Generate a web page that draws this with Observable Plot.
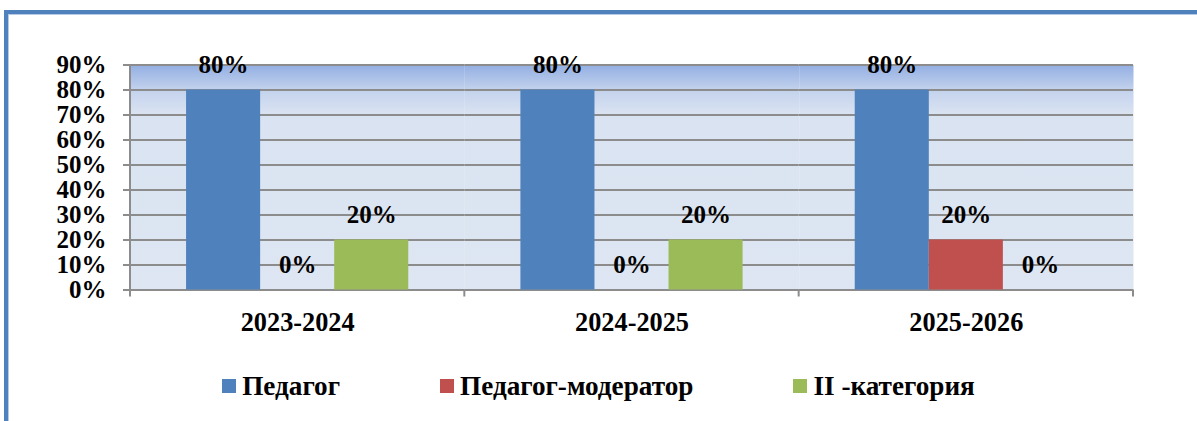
<!DOCTYPE html>
<html>
<head>
<meta charset="utf-8">
<script src="https://cdn.jsdelivr.net/npm/d3@7"></script>
<script src="https://cdn.jsdelivr.net/npm/@observablehq/plot@0.6"></script>
<style>
  html, body { margin: 0; padding: 0; background: #fff; overflow: hidden; }
  #wrap { position: relative; width: 1197px; height: 421px; overflow: hidden; font-family: 'Liberation Serif', 'Times New Roman', serif; }
  #frame { position: absolute; left: 4px; top: 10px; width: 1300px; height: 600px; border-top: 4px solid #4f81bd; border-left: 4px solid #4f81bd; box-sizing: border-box; }
  #frame2 { position: absolute; left: 8px; top: 14px; width: 1300px; height: 600px; border-top: 1px solid #b7cbe6; border-left: 1px solid #b7cbe6; box-sizing: border-box; }
  #chart { position: absolute; left: 0; top: 0; }
  #legend { position: absolute; left: 0; top: 371px; width: 1197px; display: flex; justify-content: center; gap: 100px; font-family: 'Liberation Serif', 'Times New Roman', serif; font-size: 27.2px; font-weight: bold; line-height: 30px; color: #000; }
  .item { display: flex; align-items: center; }
  .sw { width: 14px; height: 14px; margin-right: 6px; }
</style>
</head>
<body>
<div id="wrap">
  <div id="frame"></div>
  <div id="frame2"></div>
  <div id="chart"></div>
  <div id="legend"></div>
</div>
<script>
const years = ["2023-2024", "2024-2025", "2025-2026"];
const seriesNames = ["Педагог", "Педагог-модератор", "II -категория"];
const pedagog = [0.8, 0.8, 0.8];
const moderator = [0, 0, 0.2];
const category2 = [0.2, 0.2, 0];
const yTicks = [0, 0.1, 0.2, 0.3, 0.4, 0.5, 0.6, 0.7, 0.8, 0.9];
const colors = ["#4f81bd", "#c0504d", "#9bbb59"];

const seriesValues = [pedagog, moderator, category2];
const data = years.flatMap((year, i) =>
  seriesNames.map((s, j) => ({year, series: s, value: seriesValues[j][i]}))
);

const fmt = d => Math.round(d * 100) + "%";
const gridColor = "#8c8c8c";
const fsNum = 25;      // value labels and y ticks
const fsCat = 26.3;    // category labels

const chart = Plot.plot({
  width: 1197,
  height: 345,
  marginTop: 64.5,
  marginBottom: 55.5,
  marginLeft: 130,
  marginRight: 64,
  style: {fontFamily: "'Liberation Serif', 'Times New Roman', serif", fontWeight: "bold", fontSize: fsNum + "px", color: "#000", background: "transparent", overflow: "visible"},
  fx: {domain: years, padding: 0, round: false},
  x: {domain: seriesNames, paddingInner: 0, paddingOuter: 0.757, round: false, axis: null},
  y: {domain: [0, 0.9], nice: false},
  color: {domain: seriesNames, range: colors},
  marks: [
    Plot.frame({fill: "url(#bgGrad)", stroke: "none"}),
    Plot.gridY(yTicks, {stroke: gridColor, strokeOpacity: 1, strokeWidth: 2}),
    Plot.barY(data, {fx: "year", x: "series", y: "value", fill: "series"}),
    Plot.text(data, {fx: "year", x: "series", y: "value", text: d => fmt(d.value), dy: -25.5, fontSize: fsNum, fontWeight: "bold", fill: "#000", lineAnchor: "middle"}),
    Plot.axisY(yTicks, {tickFormat: fmt, tickSize: 7, tickPadding: 17, stroke: gridColor, strokeWidth: 2, fontSize: fsNum, fontWeight: "bold", fill: "#000", label: null}),
    Plot.axisFx({anchor: "bottom", tickSize: 0, tickPadding: 22, fontSize: fsCat, fontWeight: "bold", fill: "#000", label: null})
  ]
});

// gradient definition for the plot background
const svg = d3.select(chart);
const grad = svg.insert("defs", ":first-child").append("linearGradient")
  .attr("id", "bgGrad").attr("x1", 0).attr("y1", 0).attr("x2", 0).attr("y2", 1);
[[0, "#93afe2"], [0.11, "#c3d2ed"], [0.22, "#dae3f1"], [1, "#dde6f2"]].forEach(([o, c]) =>
  grad.append("stop").attr("offset", o).attr("stop-color", c));

// axis line and category separator ticks, computed from the scales
const fxS = chart.scale("fx");
const yS = chart.scale("y");
const edges = years.map(d => fxS.apply(d)).concat([fxS.apply(years[years.length - 1]) + fxS.bandwidth]);
const y0 = yS.apply(0);
const g = svg.append("g").attr("stroke", gridColor).attr("stroke-width", 2);
g.append("line").attr("x1", edges[0]).attr("x2", edges[0]).attr("y1", yS.apply(0.9)).attr("y2", y0 + 7);
g.selectAll("line.sep").data(edges.slice(1)).join("line").attr("class", "sep")
  .attr("x1", d => d).attr("x2", d => d).attr("y1", y0).attr("y2", y0 + 7);

document.getElementById("chart").appendChild(chart);

// legend
const legend = d3.select("#legend");
seriesNames.forEach((s, i) => {
  const it = legend.append("div").attr("class", "item");
  it.append("div").attr("class", "sw").style("background", colors[i]);
  it.append("span").text(s);
});
</script>
</body>
</html>
